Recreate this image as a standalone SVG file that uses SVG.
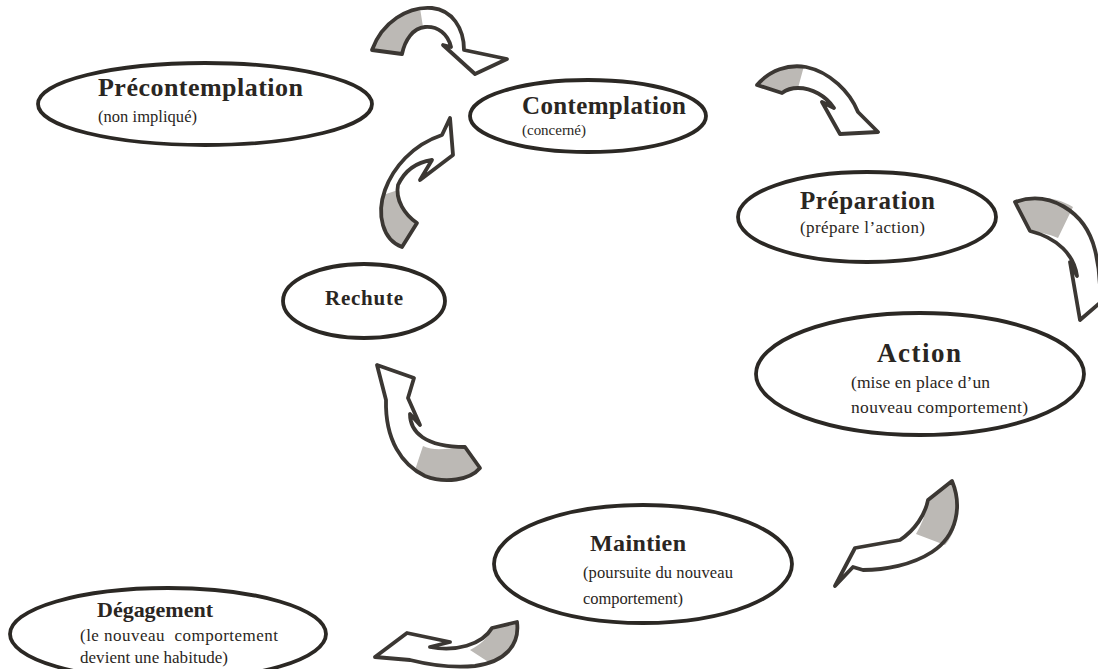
<svg xmlns="http://www.w3.org/2000/svg" width="1098" height="669" viewBox="0 0 1098 669">
<style>
.node ellipse{fill:#ffffff;stroke:#2b2824;stroke-width:3.8}
.t{font-family:"Liberation Serif","Times New Roman",serif;fill:#2a2622;font-weight:bold}
.s{font-family:"Liberation Serif","Times New Roman",serif;fill:#2a2622}
.arr .body{fill:#ffffff;stroke:none}
.arr .tail{fill:#bcb9b5;stroke:none}
.arr .line{fill:none;stroke:#3b3733;stroke-width:3.8;stroke-linejoin:round}
</style>
<rect width="1098" height="669" fill="#ffffff"/>
<g id="connectors">
 <g class="arr" id="a1">
  <path class="body" d="M372 50 C382 22 408 6 432 8 C452 10 464 28 464 50 L507 59 L475 74 L443 45 L451 47 C448 34 438 26 425 27 C413 28 405 40 402 54 Z"/>
  <path class="tail" d="M372 50 C380 28 398 12 420 8 L423 27 C412 29 405 40 402 54 Z"/>
  <path class="line" d="M372 50 C382 22 408 6 432 8 C452 10 464 28 464 50 L507 59 L475 74 L443 45 L451 47 C448 34 438 26 425 27 C413 28 405 40 402 54 Z"/>
 </g>
 <g class="arr" id="a2">
  <path class="body" d="M757 85 C770 70 788 64 806 67 C830 72 850 92 858 112 L878 132 L840 134 L822 102 L834 108 C826 96 812 88 798 88 C791 88 786 90 782 93 Z"/>
  <path class="tail" d="M757 85 C770 70 788 64 804 66 L798 88 C791 88 786 90 782 93 Z"/>
  <path class="line" d="M757 85 C770 70 788 64 806 67 C830 72 850 92 858 112 L878 132 L840 134 L822 102 L834 108 C826 96 812 88 798 88 C791 88 786 90 782 93 Z"/>
 </g>
 <g class="arr" id="a3">
  <path class="body" d="M1015 202 C1048 190 1085 210 1095 250 C1098 262 1100 275 1100 290 L1108 296 L1080 320 L1070 262 L1077 276 C1074 255 1058 238 1030 231 Z"/>
  <path class="tail" d="M1015 202 C1036 195 1056 197 1073 207 L1058 238 C1048 234 1040 232 1030 231 Z"/>
  <path class="line" d="M1015 202 C1048 190 1085 210 1095 250 C1098 262 1100 275 1100 290 L1108 296 L1080 320 L1070 262 L1077 276 C1074 255 1058 238 1030 231 Z"/>
 </g>
 <g class="arr" id="a4">
  <path class="body" d="M952 481 C962 505 958 535 932 552 C912 565 885 570 863 570 L853 567 L835 586 L855 548 L900 540 C915 530 925 515 928 500 Z"/>
  <path class="tail" d="M952 481 C962 505 958 530 945 545 L916 534 C923 522 927 510 928 500 Z"/>
  <path class="line" d="M952 481 C962 505 958 535 932 552 C912 565 885 570 863 570 L853 567 L835 586 L855 548 L900 540 C915 530 925 515 928 500 Z"/>
 </g>
 <g class="arr" id="a5">
  <path class="body" d="M517 622 C520 645 505 662 475 666 C455 668 430 665 410 660 L375 657 L407 633 L450 642 L430 647 C455 652 482 645 492 628 Z"/>
  <path class="tail" d="M517 622 C520 642 510 656 490 663 L470 650 C480 645 488 638 492 628 Z"/>
  <path class="line" d="M517 622 C520 645 505 662 475 666 C455 668 430 665 410 660 L375 657 L407 633 L450 642 L430 647 C455 652 482 645 492 628 Z"/>
 </g>
 <g class="arr" id="a6">
  <path class="body" d="M402 247 C383 240 376 215 385 190 C393 168 412 145 442 135 L450 118 L453 155 L420 180 L432 160 C418 162 405 170 398 185 C395 200 405 215 417 223 Z"/>
  <path class="tail" d="M402 247 C383 240 376 215 383 195 L398 190 C397 203 405 215 417 223 Z"/>
  <path class="line" d="M402 247 C383 240 376 215 385 190 C393 168 412 145 442 135 L450 118 L453 155 L420 180 L432 160 C418 162 405 170 398 185 C395 200 405 215 417 223 Z"/>
 </g>
 <g class="arr" id="a7">
  <path class="body" d="M465 447 L480 468 C470 480 445 484 425 476 C402 465 385 440 386 400 L377 365 L414 378 L408 398 L420 425 L410 414 C410 432 425 447 465 447 Z"/>
  <path class="tail" d="M465 447 L480 468 C470 480 440 484 415 470 L423 446 C435 452 450 448 465 447 Z"/>
  <path class="line" d="M465 447 L480 468 C470 480 445 484 425 476 C402 465 385 440 386 400 L377 365 L414 378 L408 398 L420 425 L410 414 C410 432 425 447 465 447 Z"/>
 </g>
</g>
<g class="node" id="precontemplation">
 <ellipse cx="205" cy="104" rx="167" ry="41"/>
 <text class="t" x="98" y="96" font-size="26" textLength="205" lengthAdjust="spacing">Précontemplation</text>
 <text class="s" x="98" y="122" font-size="16.5" textLength="99" lengthAdjust="spacing">(non impliqué)</text>
</g>
<g class="node" id="contemplation">
 <ellipse cx="588" cy="116" rx="118" ry="36"/>
 <text class="t" x="522" y="114" font-size="25" textLength="164" lengthAdjust="spacing">Contemplation</text>
 <text class="s" x="522" y="135" font-size="15" textLength="64" lengthAdjust="spacing">(concerné)</text>
</g>
<g class="node" id="preparation">
 <ellipse cx="867" cy="217" rx="129" ry="45"/>
 <text class="t" x="800" y="209" font-size="25" textLength="135" lengthAdjust="spacing">Préparation</text>
 <text class="s" x="800" y="233" font-size="17" textLength="125" lengthAdjust="spacing">(prépare l’action)</text>
</g>
<g class="node" id="rechute">
 <ellipse cx="364" cy="301" rx="81" ry="37"/>
 <text class="t" x="325" y="305" font-size="21" textLength="78" lengthAdjust="spacing">Rechute</text>
</g>
<g class="node" id="action">
 <ellipse cx="920" cy="374" rx="164" ry="61"/>
 <text class="t" x="877" y="362" font-size="27" textLength="84" lengthAdjust="spacing">Action</text>
 <text class="s" x="851" y="388" font-size="17.5" textLength="139" lengthAdjust="spacing">(mise en place d’un</text>
 <text class="s" x="851" y="413" font-size="17.5" textLength="177" lengthAdjust="spacing">nouveau comportement)</text>
</g>
<g class="node" id="maintien">
 <ellipse cx="643" cy="564" rx="149" ry="59"/>
 <text class="t" x="590" y="551" font-size="24" textLength="96" lengthAdjust="spacing">Maintien</text>
 <text class="s" x="583" y="578" font-size="16.5" textLength="150" lengthAdjust="spacing">(poursuite du nouveau</text>
 <text class="s" x="583" y="604" font-size="16.5" textLength="100" lengthAdjust="spacing">comportement)</text>
</g>
<g class="node" id="degagement">
 <ellipse cx="168" cy="634" rx="158" ry="46"/>
 <text class="t" x="97" y="617" font-size="22" textLength="116" lengthAdjust="spacing">Dégagement</text>
 <text class="s" x="80" y="641" font-size="17" textLength="198" lengthAdjust="spacing" xml:space="preserve">(le nouveau  comportement</text>
 <text class="s" x="80" y="663" font-size="17" textLength="148" lengthAdjust="spacing">devient une habitude)</text>
</g>
</svg>
